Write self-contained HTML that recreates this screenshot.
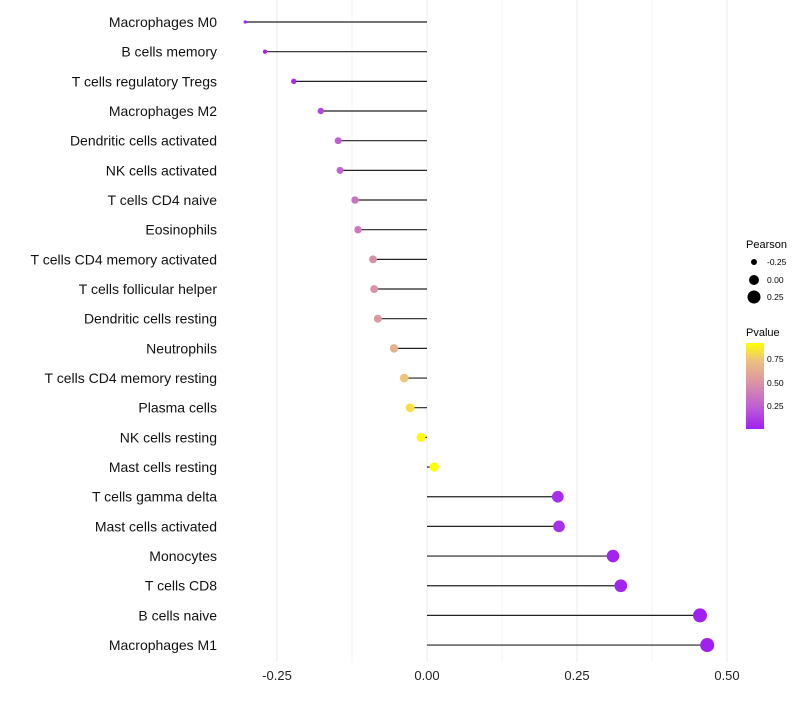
<!DOCTYPE html>
<html><head><meta charset="utf-8"><style>
body{margin:0;background:#fff;font-family:"Liberation Sans",sans-serif}
</style></head><body>
<svg id="chart" width="800" height="700" xmlns="http://www.w3.org/2000/svg" font-family="Liberation Sans, sans-serif">
<g id="grid"></g>
<g id="marks"></g>
<g id="ylab"></g>
<g id="xlab"></g>
<g id="legend">
<defs><linearGradient id="pg" x1="0" y1="1" x2="0" y2="0">
<stop offset="0" stop-color="#A020F0"/><stop offset="0.25" stop-color="#BE5CD6"/><stop offset="0.52" stop-color="#D890A8"/><stop offset="0.8" stop-color="#EEC27E"/><stop offset="1" stop-color="#FFFF00"/></linearGradient></defs>
<text x="746" y="248" font-size="11">Pearson</text>
<circle cx="754" cy="262" r="3" fill="#000"/>
<text x="767" y="265" font-size="8.5">-0.25</text>
<circle cx="754" cy="280" r="5" fill="#000"/>
<text x="767" y="283" font-size="8.5">0.00</text>
<circle cx="754" cy="297" r="6.5" fill="#000"/>
<text x="767" y="300" font-size="8.5">0.25</text>
<text x="746" y="336" font-size="11">Pvalue</text>
<rect x="746" y="343" width="18" height="86" fill="url(#pg)"/>
<text x="767" y="362" font-size="8.5">0.75</text>
<text x="767" y="386" font-size="8.5">0.50</text>
<text x="767" y="409" font-size="8.5">0.25</text>
</g>
</svg>
<script>
const categories=["Macrophages M0","B cells memory","T cells regulatory  Tregs","Macrophages M2","Dendritic cells activated","NK cells activated","T cells CD4 naive","Eosinophils","T cells CD4 memory activated","T cells follicular helper","Dendritic cells resting","Neutrophils","T cells CD4 memory resting","Plasma cells","NK cells resting","Mast cells resting","T cells gamma delta","Mast cells activated","Monocytes","T cells CD8","B cells naive","Macrophages M1"];
const pearson=[-0.303,-0.27,-0.222,-0.177,-0.148,-0.145,-0.12,-0.115,-0.09,-0.088,-0.082,-0.055,-0.038,-0.028,-0.01,0.012,0.218,0.22,0.31,0.323,0.455,0.467];
const pvalue=[0.01,0.03,0.06,0.16,0.26,0.28,0.36,0.39,0.5,0.51,0.54,0.66,0.76,0.83,0.91,0.92,0.07,0.08,0.03,0.03,0.01,0.01];
const xTicks=[-0.25,0,0.25,0.5];
const xTickLabels=["-0.25","0.00","0.25","0.50"];
const NS="http://www.w3.org/2000/svg";
const x=v=>427+v*600;
const y=i=>22+i*29.67;
function mk(t,a,p){const e=document.createElementNS(NS,t);for(const k in a)e.setAttribute(k,a[k]);p.appendChild(e);return e;}
const stops=[[0.016,[160,32,240]],[0.25,[190,92,214]],[0.5,[216,144,168]],[0.75,[238,194,126]],[0.92,[255,255,0]]];
function col(p){p=Math.max(stops[0][0],Math.min(0.92,p));for(let i=0;i<stops.length-1;i++){const[a,ca]=stops[i],[b,cb]=stops[i+1];if(p<=b){const t=(p-a)/(b-a);return"rgb("+ca.map((c,j)=>Math.round(c+(cb[j]-c)*t)).join(",")+")";}}return"rgb(255,255,0)";}
const r=v=>Math.sqrt(Math.max(2.25,21+60.7*v));
const grid=document.getElementById('grid'),marks=document.getElementById('marks'),yl=document.getElementById('ylab'),xl=document.getElementById('xlab');
[-0.25,-0.125,0,0.125,0.25,0.375,0.5].forEach(v=>{
const g=mk('line',{x1:x(v),x2:x(v),y1:0,y2:662,stroke:'#ebebeb','stroke-width':v*8%2===0?1:0.6},grid);


});
xTicks.forEach((v,i)=>{
const t=mk('text',{x:x(v),y:680,'font-size':13,'text-anchor':'middle',fill:'#222'},xl);t.textContent=xTickLabels[i];


});
categories.forEach((c,i)=>{
const t=mk('text',{x:217,y:y(i)+5,'font-size':14,'text-anchor':'end',fill:'#111'},yl);t.textContent=c;


const l=mk('line',{x1:x(0),x2:x(pearson[i]),y1:y(i),y2:y(i),stroke:'#222','stroke-width':1.2},marks);


const d=mk('circle',{cx:x(pearson[i]),cy:y(i),r:r(pearson[i]),fill:col(pvalue[i])},marks);


});
</script>
</body></html>
